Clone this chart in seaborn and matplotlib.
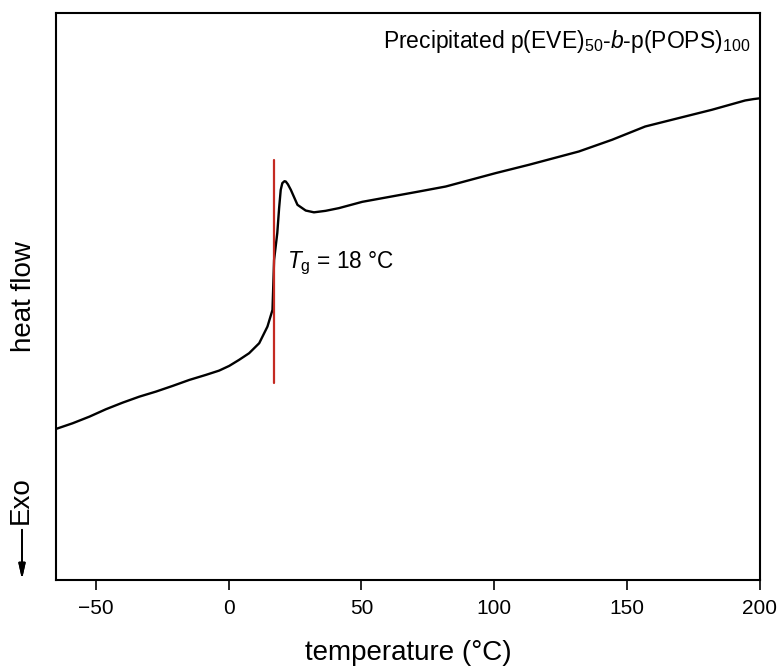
import numpy as np
import seaborn as sns
import matplotlib.pyplot as plt

# DSC trace (heat flow in arbitrary units)
temperature = [-65, -58.7, -52.4, -46.2, -39.9, -33.6, -27.4, -21.1, -14.8, -8.6, -3.6, 0.2,
               3.9, 7.7, 11.5, 14.6, 16.5, 17.1, 18.3, 19.0, 19.6, 20.2, 21.0, 21.5, 22.3,
               23.4, 25.9, 29.0, 32.1, 36.5, 41.5, 50.3, 71.6, 81.7, 100.5, 113, 131.8,
               144.3, 156.8, 169.4, 181.9, 194.4, 197.6, 200]
heat_flow = [151, 156.7, 163.3, 170.7, 177.3, 183.3, 188.3, 194, 200, 205, 209.3, 214,
             220, 226.7, 236.7, 253.3, 270, 320, 346.7, 372, 390, 396.7, 398.6, 398.3, 395.5,
             390, 375, 369.3, 367.5, 369, 371.7, 378, 388.3, 393.3, 406.7, 415, 428.3,
             440, 453.3, 461.7, 470, 479.3, 480.7, 481.5]

tg_line_x = 17
tg_line_y = [197, 420]
tg_label = "$\\mathit{T}_\\mathregular{g}$ = 18 °C"
sample_label = "Precipitated p(EVE)$_{50}$-$\\mathit{b}$-p(POPS)$_{100}$"
x_ticks = [-50, 0, 50, 100, 150, 200]

sns.set_style("ticks")
plt.rcParams['font.family'] = ['Liberation Sans', 'DejaVu Sans']
plt.rcParams['mathtext.fontset'] = 'custom'
plt.rcParams['mathtext.rm'] = 'Liberation Sans'
plt.rcParams['mathtext.it'] = 'Liberation Sans:italic'
plt.rcParams['mathtext.default'] = 'regular'
plt.rcParams['text.color'] = 'black'
plt.rcParams['axes.labelcolor'] = 'black'
plt.rcParams['xtick.color'] = 'black'

fig = plt.figure(figsize=(7.83, 6.70), dpi=100)
ax = fig.add_axes([0.0715, 0.1343, 0.8991, 0.8467])

sns.lineplot(x=temperature, y=heat_flow, color="black", linewidth=1.7, ax=ax)
ax.plot([tg_line_x, tg_line_x], tg_line_y, color="#c42a22", linewidth=1.6)

ax.set_xlim(-65, 200)
ax.set_ylim(0, 567)
ax.set_xticks(x_ticks)
ax.set_xticklabels(["\u221250" if t < 0 else str(t) for t in x_ticks])
ax.set_yticks([])
for s in ax.spines.values():
    s.set_linewidth(1.5)
    s.set_color("black")
ax.tick_params(axis="x", direction="out", length=7, width=1.2, pad=6.5, labelsize=15)

ax.set_xlabel("temperature (°C)", fontsize=20, labelpad=16)
ax.set_ylabel("heat flow", fontsize=20, labelpad=14)

ax.text(22, 317, tg_label, fontsize=16.3, va="center", ha="left")
ax.text(196.4, 538, sample_label, fontsize=16.5, va="center", ha="right")

# Exo indicator on the left
fig.text(21 / 783, 1 - 500 / 670, "Exo", rotation=90, fontsize=20, ha="center", va="center")
fig.add_artist(plt.annotate("", xy=(22 / 783, 1 - 582 / 670), xytext=(22 / 783, 1 - 527 / 670),
                            xycoords="figure fraction", textcoords="figure fraction",
                            arrowprops=dict(arrowstyle="-|>,head_length=0.9,head_width=0.2",
                                            color="black", lw=1.3)))

fig.savefig("out.png", dpi=100)
